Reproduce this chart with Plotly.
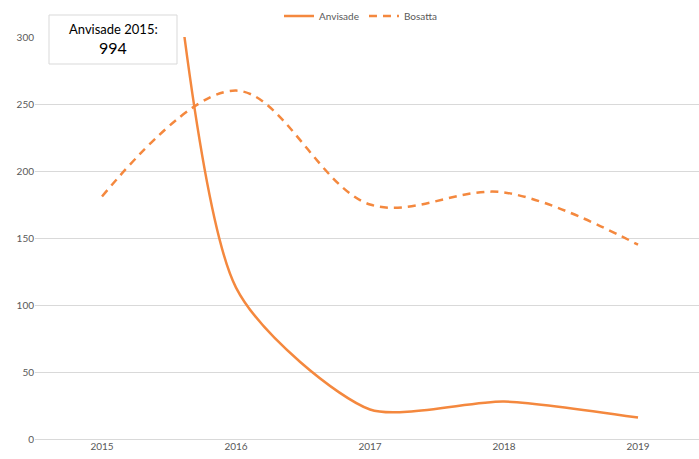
import plotly.graph_objects as go

years = ["2015", "2016", "2017", "2018", "2019"]
anvisade = [994, 113, 22, 28, 16]
bosatta = [181, 260, 175, 184, 145]
y_ticks = [0, 50, 100, 150, 200, 250, 300]

orange = "#F4883E"
fig = go.Figure()
fig.add_trace(go.Scatter(x=years, y=anvisade, name="Anvisade", mode="lines",
                         line=dict(color=orange, width=2.5, shape="spline", smoothing=0.65)))
fig.add_trace(go.Scatter(x=years, y=bosatta, name="Bosatta", mode="lines",
                         line=dict(color=orange, width=2.5, shape="spline", smoothing=1.0, dash="8px,6px")))

L, R, T, B = 35, 0, 37, 20
W, H = 699, 459
pw, ph = W - L - R, H - T - B

def px2paper(x, y):
    return (x - L) / pw, (H - B - y) / ph

x0, y0 = px2paper(49, 64)
x1, y1 = px2paper(177, 15)
fig.add_shape(type="rect", xref="paper", yref="paper", x0=x0, y0=y0, x1=x1, y1=y1,
              line=dict(color="#d9d9d9", width=1), fillcolor="white", layer="above")
cx, cy1 = px2paper(113, 29)
_, cy2 = px2paper(113, 47)
fig.add_annotation(xref="paper", yref="paper", x=cx, y=cy1, xanchor="center", yanchor="middle",
                   text="Anvisade 2015:", showarrow=False,
                   font=dict(family="Lato, sans-serif", size=13, color="#000000"))
fig.add_annotation(xref="paper", yref="paper", x=cx, y=cy2, xanchor="center", yanchor="middle",
                   text="994", showarrow=False,
                   font=dict(family="Lato, sans-serif", size=16, color="#000000"))

lx, ly = px2paper(361, 16)
fig.update_layout(
    width=W, height=H,
    margin=dict(l=L, r=R, t=T, b=B, autoexpand=False),
    plot_bgcolor="white", paper_bgcolor="white",
    font=dict(family="Lato, Open Sans, sans-serif", size=10, color="#595959"),
    legend=dict(orientation="h", x=lx, xanchor="center", y=ly, yanchor="middle",
                font=dict(size=10, color="#595959"), bgcolor="rgba(0,0,0,0)"),
    xaxis=dict(type="category", range=[-0.5, 4.455], showgrid=False, showline=False,
               ticks="", automargin=False, tickfont=dict(size=10, color="#595959")),
    yaxis=dict(range=[0, 300], tickvals=y_ticks, showgrid=True, gridcolor="#d9d9d9",
               gridwidth=1, zeroline=True, zerolinecolor="#d9d9d9", zerolinewidth=1,
               showline=False, ticks="", automargin=False,
               tickfont=dict(size=10, color="#595959")),
)

fig.write_html("out.html", config={"displayModeBar": False},
               post_script="document.body.style.margin='0';")
